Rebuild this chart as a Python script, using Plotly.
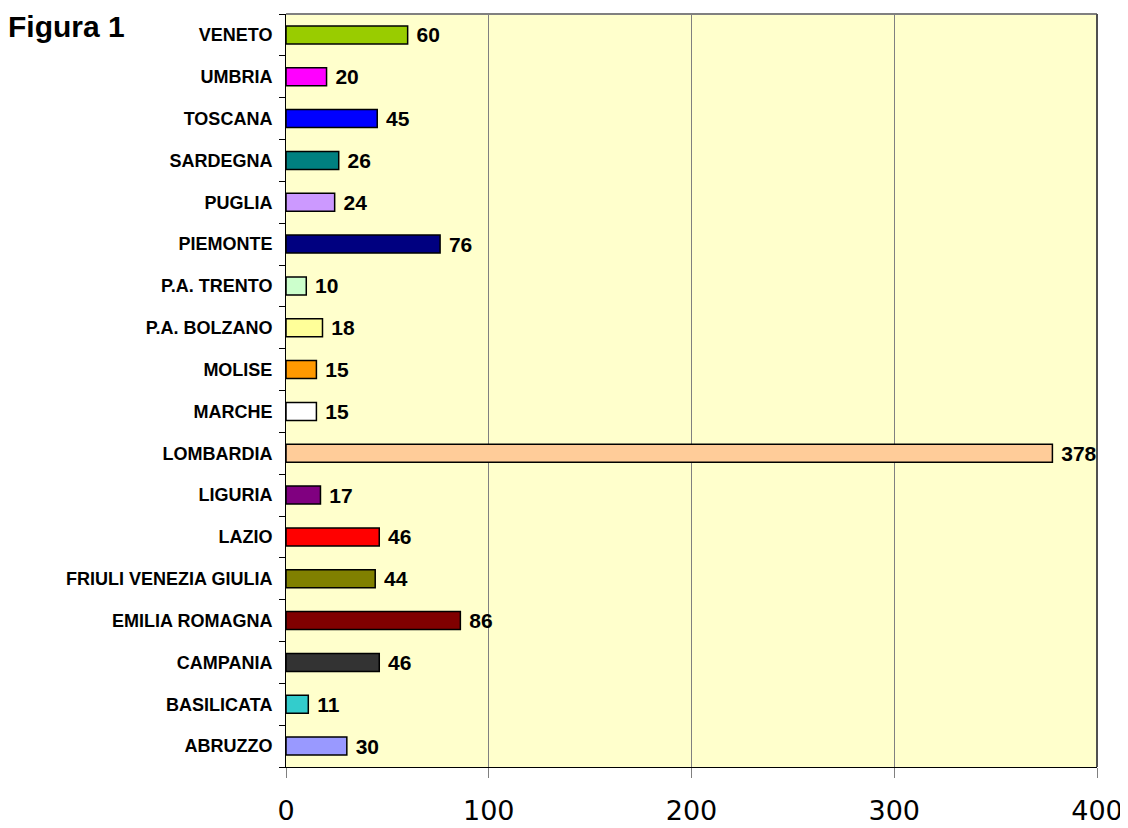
import plotly.graph_objects as go

regions = ["ABRUZZO", "BASILICATA", "CAMPANIA", "EMILIA ROMAGNA", "FRIULI VENEZIA GIULIA",
           "LAZIO", "LIGURIA", "LOMBARDIA", "MARCHE", "MOLISE", "P.A. BOLZANO", "P.A. TRENTO",
           "PIEMONTE", "PUGLIA", "SARDEGNA", "TOSCANA", "UMBRIA", "VENETO"]
values = [30, 11, 46, 86, 44, 46, 17, 378, 15, 15, 18, 10, 76, 24, 26, 45, 20, 60]
colors = ["#9999FF", "#33CCCC", "#333333", "#800000", "#808000", "#FF0000", "#800080",
          "#FFCC99", "#FFFFFF", "#FF9900", "#FFFF99", "#CCFFCC", "#000080", "#CC99FF",
          "#008080", "#0000FF", "#FF00FF", "#99CC00"]
x_ticks = [0, 100, 200, 300, 400]

# page body has an 8px margin: compensate in size and margins
fig = go.Figure(go.Bar(
    y=regions, x=values, orientation="h",
    marker=dict(color=colors, line=dict(color="black", width=1.5)),
    text=[" " + str(v) for v in values], textposition="outside", constraintext="none",
    textfont=dict(family="Liberation Sans, Arial", size=21, color="black", weight="bold"),
    cliponaxis=False, width=0.43,
))

fig.update_layout(
    width=1120, height=820,
    margin=dict(l=278, r=31, t=6, b=61, autoexpand=False),
    paper_bgcolor="white", plot_bgcolor="#FFFFCC",
    showlegend=False,
    font=dict(family="Liberation Sans, Arial", color="black"),
    xaxis=dict(range=[0, 400], tickvals=x_ticks, showgrid=True, gridcolor="#808080", gridwidth=1,
               showline=True, linecolor="black", linewidth=1, ticks="outside", ticklen=10,
               tickcolor="#808080", tickfont=dict(size=27, family="DejaVu Sans"),
               ticklabelstandoff=10, zeroline=False, fixedrange=True, automargin=False),
    yaxis=dict(type="category", categoryorder="array", categoryarray=regions,
               showline=True, linecolor="black", linewidth=1, ticks="outside", ticklen=6,
               tickson="boundaries", tickcolor="black", showgrid=False,
               tickfont=dict(size=18, family="Liberation Sans, Arial", weight="bold"),
               ticklabelstandoff=9, range=[-0.5, 17.5], automargin=False),
    shapes=[
        dict(type="line", xref="paper", yref="paper", x0=0, x1=1, y0=1, y1=1,
             line=dict(color="#808080", width=2)),
        dict(type="line", xref="paper", yref="paper", x0=1, x1=1, y0=0, y1=1,
             line=dict(color="#505050", width=2)),
    ],
    annotations=[dict(text="<b>Figura 1</b>", xref="paper", yref="paper", x=0, y=1,
                      xanchor="left", yanchor="top", showarrow=False, xshift=-280, yshift=6,
                      font=dict(size=30, family="Liberation Sans, Arial"))],
)

fig.write_html("out.html")
